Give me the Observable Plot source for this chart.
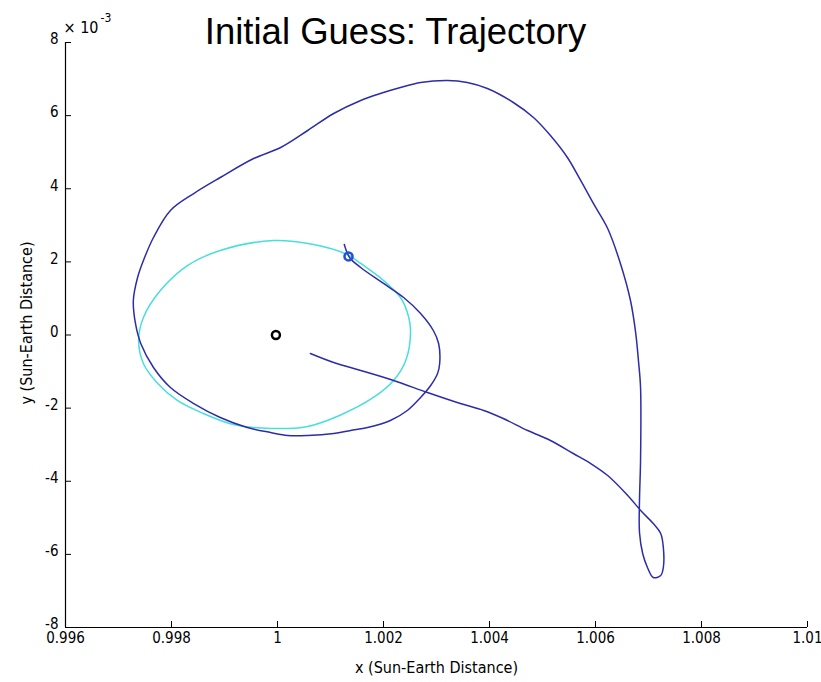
<!DOCTYPE html>
<html><head><meta charset="utf-8">
<script src="https://cdn.jsdelivr.net/npm/d3@7"></script>
<script src="https://cdn.jsdelivr.net/npm/@observablehq/plot@0.6"></script>
<style>body{margin:0;background:#fff}</style>
</head><body><div id="chart"></div>
<script>
const titleText = "Initial Guess: Trajectory";
const xLabel = "x (Sun-Earth Distance)";
const yLabel = "y (Sun-Earth Distance)";
const xTicks = [0.996, 0.998, 1.0, 1.002, 1.004, 1.006, 1.008, 1.01];
const xTickLabels = ["0.996","0.998","1","1.002","1.004","1.006","1.008","1.01"];
const yTicks = [-8, -6, -4, -2, 0, 2, 4, 6, 8];
const yTickLabels = ["-8","-6","-4","-2","0","2","4","6","8"];
const yExponent = "-3";

// trajectory (y in units of 1e-3)
const trajX = [1.00126,1.00136,1.00157,1.00200,1.00238,1.00270,1.00294,1.00304,1.00306,1.00302,1.00289,1.00270,1.00245,1.00213,1.00170,1.00138,1.00106,1.00057,1.00019,0.99987,0.99943,0.99892,0.99842,0.99798,0.99766,0.99742,0.99732,0.99728,0.99736,0.99747,0.99766,0.99798,0.99842,0.99892,0.99955,1.00006,1.00057,1.00106,1.00157,1.00194,1.00232,1.00270,1.00321,1.00358,1.00396,1.00445,1.00483,1.00515,1.00547,1.00572,1.00596,1.00623,1.00647,1.00666,1.00676,1.00681,1.00685,1.00685,1.00683,1.00683,1.00689,1.00698,1.00709,1.00723,1.00728,1.00728,1.00723,1.00709,1.00687,1.00660,1.00623,1.00591,1.00558,1.00515,1.00472,1.00426,1.00389,1.00345,1.00283,1.00219,1.00157,1.00106,1.00062];
const trajY = [2.475,2.120,1.846,1.409,1.026,0.588,0.123,-0.232,-0.780,-1.053,-1.381,-1.709,-2.065,-2.338,-2.530,-2.612,-2.694,-2.749,-2.749,-2.667,-2.530,-2.256,-1.874,-1.436,-0.889,-0.232,0.315,0.944,1.573,2.038,2.667,3.405,3.870,4.308,4.827,5.128,5.593,6.058,6.414,6.605,6.769,6.906,6.961,6.906,6.742,6.359,5.949,5.456,4.855,4.226,3.597,2.913,1.956,0.944,0.040,-0.697,-1.436,-3.433,-4.527,-5.402,-5.976,-6.359,-6.633,-6.578,-6.359,-5.812,-5.429,-5.156,-4.828,-4.376,-3.843,-3.515,-3.241,-2.885,-2.612,-2.284,-2.065,-1.874,-1.573,-1.244,-0.971,-0.752,-0.506];

// reference orbit (cyan)
const orbitX = [0.99992,1.00068,1.00132,1.00157,1.00200,1.00232,1.00245,1.00251,1.00242,1.00219,1.00181,1.00117,1.00057,0.99987,0.99917,0.99860,0.99811,0.99774,0.99747,0.99738,0.99747,0.99779,0.99830,0.99892];
const orbitY = [2.585,2.475,2.200,1.956,1.490,1.026,0.615,0.123,-0.697,-1.244,-1.709,-2.200,-2.500,-2.557,-2.450,-2.147,-1.790,-1.327,-0.780,-0.150,0.479,1.217,1.900,2.311];

const startX = [1.00134], startY = [2.15];
const earthX = [0.99997], earthY = [0];

const traj = trajX.map((x, i) => ({x, y: trajY[i]}));
const orbit = orbitX.map((x, i) => ({x, y: orbitY[i]}));
const start = startX.map((x, i) => ({x, y: startY[i]}));
const earth = earthX.map((x, i) => ({x, y: earthY[i]}));

const font = "'Liberation Sans Narrow','Arial Narrow','DejaVu Sans Condensed','Liberation Sans',Arial,sans-serif";
const titleFont = "'Liberation Sans',Arial,Helvetica,sans-serif";

const chart = Plot.plot({
  width: 821, height: 682,
  marginLeft: 65, marginRight: 14, marginTop: 42, marginBottom: 55,
  x: {domain: [0.996, 1.01]},
  y: {domain: [-8, 8]},
  style: {fontFamily: font, fontSize: "15px", color: "#000", background: "#fff", overflow: "visible"},
  marks: [
    Plot.line(orbit, {x: "x", y: "y", stroke: "#48dede", strokeWidth: 1.5, curve: "catmull-rom-closed"}),
    Plot.line(traj, {x: "x", y: "y", stroke: "#2d2da8", strokeWidth: 1.5, curve: "catmull-rom"}),
    Plot.dot(start, {x: "x", y: "y", r: 4, stroke: "#2050d8", strokeWidth: 2.5, fill: "none"}),
    Plot.dot(earth, {x: "x", y: "y", r: 4, stroke: "#000", strokeWidth: 2.5, fill: "none"}),
    Plot.ruleY([-8], {stroke: "#000", strokeWidth: 1.2}),
    Plot.ruleX([0.996], {stroke: "#000", strokeWidth: 1.2}),
    Plot.tickX(xTicks, {x: d => d, stroke: "#000", insetTop: 579}),
    Plot.tickY(yTicks, {y: d => d, stroke: "#000", insetRight: 736}),
    Plot.axisX({ticks: xTicks, tickSize: 0, tickPadding: 5, label: null,
      tickFormat: d => xTickLabels[xTicks.indexOf(d)]}),
    Plot.axisY({ticks: yTicks, tickSize: 0, tickPadding: 7, dy: -3, label: null,
      tickFormat: d => yTickLabels[yTicks.indexOf(d)]}),
    Plot.text([titleText], {frameAnchor: "top-left", text: d => d, dx: 330, dy: 1, textAnchor: "middle",
      fontSize: 36.5, fontFamily: titleFont, fill: "#000", lineAnchor: "bottom"}),
    Plot.text(["× 10"], {frameAnchor: "top-left", text: d => d, dx: -2, dy: -10, textAnchor: "start",
      lineAnchor: "bottom", fontSize: 16}),
    Plot.text([yExponent], {frameAnchor: "top-left", text: d => d, dx: 35, dy: -21, textAnchor: "start",
      lineAnchor: "bottom", fontSize: 12}),
    Plot.text([xLabel], {frameAnchor: "bottom", text: d => d, dy: 45, lineAnchor: "bottom", fontSize: 16}),
    Plot.text([yLabel], {frameAnchor: "left", text: d => d, dx: -34, dy: -12, rotate: -90, textAnchor: "middle",
      lineAnchor: "bottom", fontSize: 16})
  ]
});
document.getElementById("chart").appendChild(chart);
</script>
</body></html>
